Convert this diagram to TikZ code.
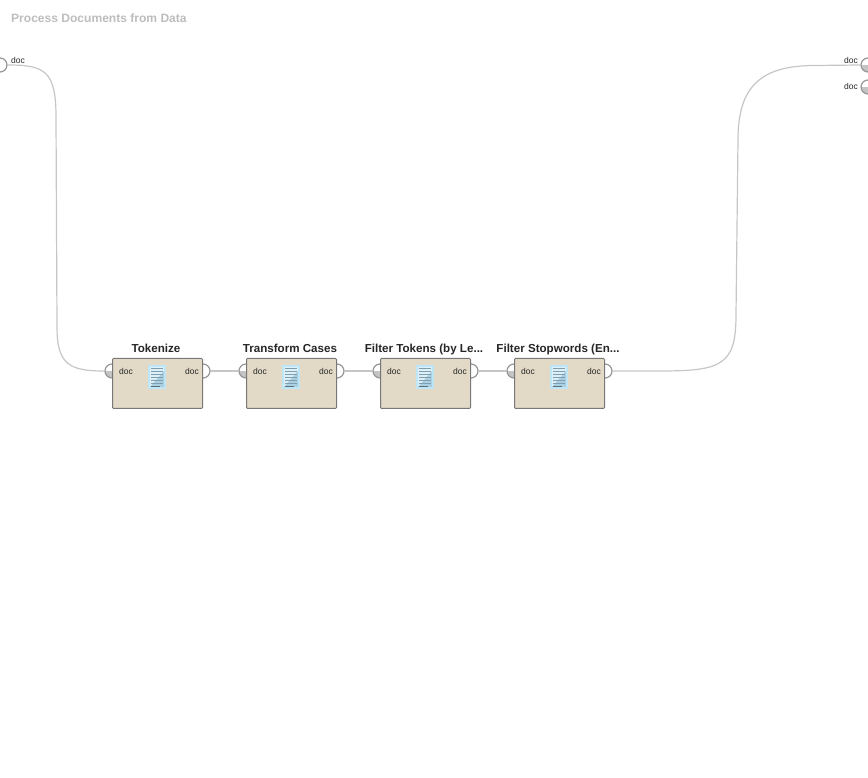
\documentclass[tikz,border=0pt]{standalone}
\usepackage{fontspec}
\setmainfont{Liberation Sans}
\usetikzlibrary{positioning,backgrounds}
\definecolor{opfill}{HTML}{E2D9C6}
\definecolor{opline}{HTML}{787878}
\definecolor{wireline}{HTML}{C6C6C6}
\definecolor{portgray}{HTML}{C4C4C4}
\definecolor{portline}{HTML}{969696}
\definecolor{titlegray}{HTML}{BDBDBD}
\definecolor{iconedge}{HTML}{BFE6F6}
\definecolor{iconpage}{HTML}{DDEFF7}
\definecolor{iconshade}{HTML}{A9CFE0}
\definecolor{iconrule}{HTML}{7F9FB0}
\tikzset{
  opbox/.style={draw=opline, fill=opfill, line width=1pt, rounded corners=1pt, minimum width=90pt, minimum height=50pt, inner sep=0pt},
  optitle/.style={font=\bfseries\fontsize{11.6}{12}\selectfont, text=black!85, inner sep=0pt},
  portlabel/.style={font=\fontsize{8.5}{10}\selectfont, text=black!85, inner sep=0pt},
  outport/.style={circle, draw=portline, fill=white, line width=1.2pt, minimum size=14pt, inner sep=0pt},
  inport/.style={outport, path picture={\fill[portgray] (path picture bounding box.west) rectangle (path picture bounding box.south east);}},
  wire/.style={draw=wireline, line width=1.2pt},
  docicon/.pic={
    \fill[iconedge] (-9,-12) rectangle (9,12);
    \fill[iconpage] (-7,-10) rectangle (7,10);
    \fill[iconshade] (7,-10) -- (7,6) -- (-7,-10) -- cycle;
    \foreach \i in {-6,-3,0,3,6,9} \draw[iconrule, line width=0.9pt] (-6,\i) -- (6,\i);
    \draw[iconrule!70!black, line width=0.9pt] (-6,-9) -- (3,-9);
  }
}
\begin{document}
\begin{tikzpicture}[x=1pt, y=1pt, node distance=43pt]
\useasboundingbox (0,0) rectangle (868,777);
\node (title) [anchor=west, text=titlegray, font=\bfseries\fontsize{12.05}{14}\selectfont, inner sep=0pt] at (11,759) {Process Documents from Data};

\node (tok) [opbox] at (157.5,393.5) {};
\node (trans) [opbox, right=of tok] {};
\node (filt) [opbox, right=of trans] {};
\node (stop) [opbox, right=of filt] {};

\foreach \n/\t in {tok/Tokenize, trans/Transform Cases, filt/{Filter Tokens (by Le...}, stop/{Filter Stopwords (En...}} {
  \node (\n title) [optitle, anchor=mid] at ([xshift=-1.5pt,yshift=8.5pt]\n.north) {\t};
  \node (\n doc1) [portlabel, anchor=mid west] at ([xshift=7pt,yshift=-14pt]\n.north west) {doc};
  \node (\n doc2) [portlabel, anchor=mid east] at ([xshift=-4pt,yshift=-14pt]\n.north east) {doc};
  \pic at ([xshift=-0.5pt,yshift=-19pt]\n.north) {docicon};
}

\node (srcdoc) [portlabel, anchor=mid west] at (11,716) {doc};
\node (out1doc) [portlabel, anchor=mid east] at (858,716) {doc};
\node (out2doc) [portlabel, anchor=mid east] at (858,690) {doc};

\begin{scope}[on background layer]
\foreach \n in {tok,trans,filt,stop} {
  \node (\n-in) [inport] at ([yshift=-13pt]\n.north west) {};
  \node (\n-out) [outport] at ([yshift=-13pt]\n.north east) {};
}
\node (src) [outport] at (0,712) {};
\node (out1) [inport] at (868,712) {};
\node (out2) [inport] at (868,690) {};

\draw[wire] (src.east) .. controls (45,712) and (56,706) .. (56,660) -- (57,450) .. controls (57,412) and (70,406) .. (tok-in.west);
\draw[wire] (tok-out) -- (trans-in);
\draw[wire] (trans-out) -- (filt-in);
\draw[wire] (filt-out) -- (stop-in);
\draw[wire] (stop-out.east) -- (660,406) .. controls (722,406) and (736,412) .. (736,462) -- (738,637) .. controls (738,690) and (760,711.5) .. (815,711.5) -- (out1.west);
\end{scope}
\end{tikzpicture}
\end{document}
